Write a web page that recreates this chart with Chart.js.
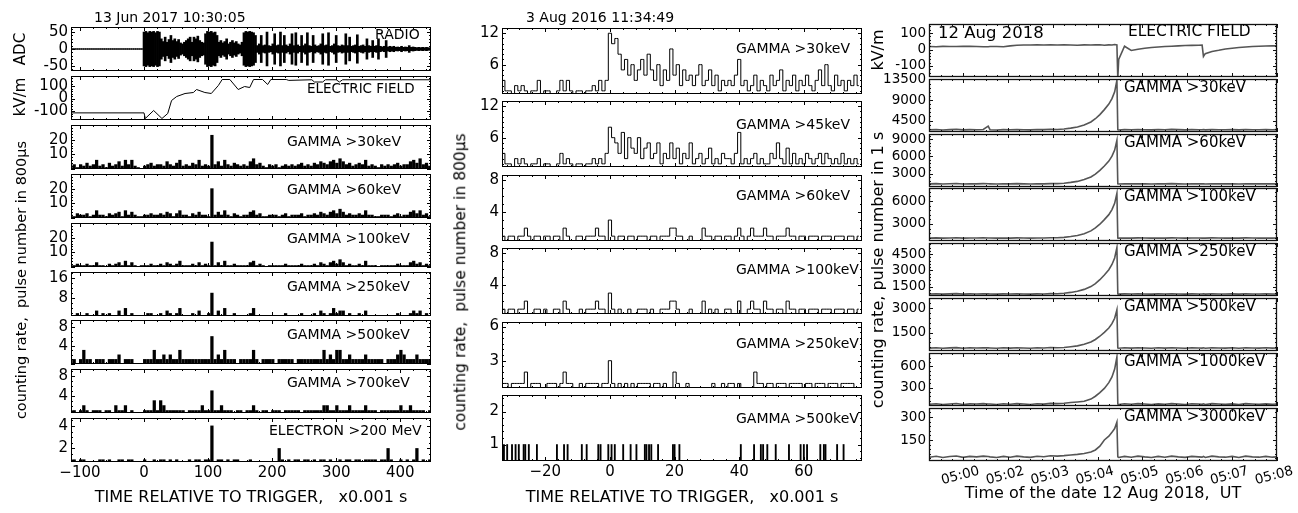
<!DOCTYPE html>
<html lang="en">
<head>
<meta charset="UTF-8">
<title>Gamma flux and electric field</title>
<script src="https://cdn.jsdelivr.net/npm/chart.js"></script>
<style>
    * { margin: 0; padding: 0; box-sizing: border-box; }
    body { background: #fff; font-family: 'DejaVu Sans', sans-serif; color: #000; }
    #wrap { position: relative; width: 1298px; height: 513px; overflow: hidden; }
    #wrap canvas { position: absolute; }
    .txt { position: absolute; white-space: pre; line-height: 1; z-index: 2; }
    .rot { transform: translate(-50%, -50%) rotate(-90deg); }
    .ctr { transform: translate(-50%, -50%); }
    .lft { transform: translateY(-50%); }
</style>
</head>
<body>
<div id="wrap">
    <div class="txt lft" style="left:94px;top:17px;font-size:14px">13 Jun 2017 10:30:05</div>
    <div class="txt lft" style="left:526px;top:17px;font-size:14px">3 Aug 2016 11:34:49</div>

    <div class="txt rot" style="left:20px;top:49px;font-size:15px">ADC</div>
    <div class="txt rot" style="left:20px;top:97px;font-size:15px">kV/m</div>
    <div class="txt rot" style="left:21px;top:280px;font-size:14.5px">counting rate,  pulse number in 800μs</div>
    <div class="txt rot" style="left:461px;top:282px;font-size:15.5px">counting rate,  pulse number in 800μs</div>
    <div class="txt rot" style="left:878px;top:50px;font-size:16px">kV/m</div>
    <div class="txt rot" style="left:878px;top:270px;font-size:16px">counting rate, pulse number in 1 s</div>

    <div class="txt ctr" style="left:251px;top:497px;font-size:16px">TIME RELATIVE TO TRIGGER,   x0.001 s</div>
    <div class="txt ctr" style="left:682px;top:497px;font-size:16px">TIME RELATIVE TO TRIGGER,   x0.001 s</div>
    <div class="txt ctr" style="left:1103px;top:493px;font-size:16px">Time of the date 12 Aug 2018,  UT</div>

    <div class="txt lft" style="left:938px;top:33px;font-size:16.5px">12 Aug 2018</div>
</div>

<script>
// ---------- 13 Jun 2017 (left column), time in ms relative to trigger ----------
const radioT0 = -114, radioDt = 3;
const radioAmp = [
    1,1,1,1,1,1,1,1,1,1, 1,1,1,1,1,1,1,1,1,1, 1,1,1,1,1,1,1,1,1,1, 1,1,1,1,1,1,1,1,
    50,52,48,52,50,52,48,52,50,
    30,22,35,20,28,40,25,30,22,28,18,
    15,20,25,30,35,20,
    35,30,38,25,20,18,
    45,52,50,52,48,50,40,
    20,25,18,22,30,15,20,25,18,22,15,12,20,
    48,52,50,52,50,48,40,
    10,15,40,10,12,50,10,8,15,45,10,12,50,10,40,12,8,15,45,10,48,12,8,40,10,15,48,10,8,40,
    12,8,10,15,45,10,12,48,8,10,15,40,10,8,12,10,45,10,35,8,10,12,42,8,10,12,8,30,10,8,
    25,8,10,30,8,6,8,25,6,8,6,8,5,6,5,8,5,6,5,10,5,6,5,4,5,4,5,4,5,4,3
];
const leftEfT = [-114, 0, 2, 15, 28, 37, 43, 51, 64, 77, 82, 95, 105, 116, 122, 134, 147, 157, 165, 171,
    185, 193, 198, 222, 226, 262, 266, 279, 283, 300, 305, 310, 448];
const leftEfV = [-115, -115, -160, -96, -160, -120, -16, 16, 40, 48, 72, 48, 40, 104, 152, 152, 72, 96, 88, 152,
    152, 112, 152, 152, 145, 150, 132, 132, 150, 150, 132, 150, 150];

const leftT0 = -114, leftDt = 5;
const left30 = [
    2,3,1,3,2,4,2,3,6,2, 3,1,4,2,3,5,2,6,3,6, 2,1,0,2,3,4,2,3,3,2, 5,3,2,4,6,2,3,2,4,3,
    6,2,3,2,23,3,5,2,6,3, 2,4,3,2,3,2,5,7,3,4, 2,1,3,2,3,1,2,3,2,3, 2,3,4,2,3,2,4,3,5,4,
    3,5,6,4,7,5,3,4,2,3, 4,3,6,2,3,2,1,3,2,3, 2,3,4,2,3,3,5,6,4,7, 3,4,2
];
const left60 = [
    2,1,3,2,2,3,1,2,5,2, 2,1,3,2,3,4,1,5,2,4, 2,1,1,2,2,3,2,2,3,2, 4,3,1,3,5,2,2,1,3,2,
    4,2,2,1,20,2,4,2,5,2, 1,3,2,1,2,2,4,5,2,3, 1,1,2,2,2,1,2,3,1,2, 2,2,3,1,2,2,3,2,4,3,
    2,4,5,3,6,4,2,3,2,2, 3,2,5,2,2,1,1,2,2,2, 1,2,3,1,2,2,4,5,3,5, 2,3,1
];
const left100 = [
    1,1,2,1,1,2,1,1,3,1, 1,0,2,1,2,3,1,4,1,3, 1,0,1,1,1,2,1,1,2,1, 3,2,1,2,4,1,1,1,2,1,
    3,1,2,1,17,1,3,1,4,1, 1,2,1,1,1,1,3,4,1,2, 1,0,1,1,1,1,1,2,1,1, 1,1,2,1,1,1,2,1,3,2,
    1,3,4,2,5,3,1,2,1,1, 2,1,4,1,1,1,0,1,1,1, 1,1,2,1,1,1,3,4,2,3, 1,2,1
];
const left250 = [
    1,1,2,1,1,2,1,1,3,1, 2,1,2,1,1,3,1,4,1,2, 1,0,1,1,2,2,1,1,2,1, 3,2,1,2,4,1,1,1,2,1,
    3,1,1,2,10,1,3,1,4,1, 1,2,1,1,1,1,2,4,1,1, 1,0,1,1,1,1,1,2,1,1, 1,1,2,1,1,1,2,1,3,2,
    1,2,4,2,3,3,1,2,1,1, 2,1,3,1,1,1,0,1,1,1, 1,1,2,1,1,1,2,3,2,3, 1,2,1
];
const left500 = [
    1,1,0,1,3,1,1,0,1,1, 1,0,1,1,1,2,0,1,1,1, 0,0,0,1,1,1,3,1,1,2, 1,2,1,1,3,1,1,1,1,1,
    1,1,1,1,6,1,2,1,3,1, 1,1,0,1,1,1,1,3,1,0, 1,1,1,1,0,1,1,1,1,1, 0,1,1,1,1,1,1,1,1,3,
    1,2,1,3,3,1,1,2,1,1, 1,1,2,1,1,1,1,1,0,1, 1,1,2,3,2,1,1,1,2,1, 1,1,1
];
const left700 = [
    1,1,0,1,2,1,0,1,1,1, 0,1,1,0,2,1,1,2,0,1, 0,0,0,1,1,1,3,1,3,2, 1,1,1,1,1,1,0,1,1,1,
    1,2,1,1,5,1,1,2,1,1, 1,0,1,1,0,1,1,2,1,0, 1,1,0,1,1,1,0,1,1,1, 1,1,0,1,1,1,1,1,1,2,
    2,1,1,2,1,1,1,2,1,1, 1,1,2,1,1,1,0,1,1,1, 1,1,1,2,1,1,2,1,1,1, 1,0,1
];
const leftElectron = [
    1,1,0,1,1,0,0,0,0,1, 1,0,1,0,0,1,1,0,1,1, 0,0,0,1,0,0,1,0,1,1, 0,1,0,1,0,0,0,1,0,1,
    1,0,1,1,4,0,1,1,0,1, 0,1,1,0,0,0,1,0,0,0, 0,0,0,0,0,2,1,0,1,0, 1,1,0,1,1,0,1,0,1,1,
    0,1,0,0,1,0,1,1,0,1, 1,0,1,1,1,1,0,1,1,2, 1,0,0,1,0,1,0,1,2,0, 1,0,1
];
const leftXTicks = [-100, 0, 100, 200, 300, 400];

// ---------- 3 Aug 2016 (middle column) ----------
const midT0 = -33, midDt = 1;
const mid30 = [
    3,1,1,0,2,1,2,1,0,1, 1,3,0,1,1,0,0,1,3,1, 3,1,0,1,1,0,1,1,2,1, 3,1,3,12,10,11,8,5,7,4,
    6,3,5,7,4,8,5,3,6,2, 5,3,9,4,6,2,5,3,4,2, 4,6,2,3,5,2,4,1,3,2, 3,2,4,7,2,3,1,2,4,1,
    3,2,1,4,2,3,5,1,3,2, 4,1,3,2,4,2,1,3,5,2, 6,2,1,4,2,3,1,3,2,4, 2
];
const mid45 = [
    3,1,1,0,2,1,2,1,0,1, 1,2,0,1,1,0,0,1,3,1, 2,1,0,1,1,0,1,1,2,1, 2,1,3,8,6,5,3,7,2,6,
    4,3,6,2,4,5,2,3,5,1, 3,2,5,2,4,1,3,2,5,1, 2,3,1,2,4,1,2,1,3,2, 2,1,3,7,1,2,1,2,3,1,
    2,1,1,3,2,5,2,1,4,1, 3,1,2,1,3,2,1,2,3,1, 3,2,1,2,1,3,1,2,1,2, 1
];
const mid60 = [
    1,0,1,1,0,1,1,2,1,0, 1,1,0,1,1,0,1,1,0,2, 1,0,0,1,1,0,1,1,1,2, 1,1,0,3,1,0,1,1,0,1,
    1,0,1,1,1,0,1,1,0,1, 1,1,2,2,1,1,0,0,1,0, 0,0,2,1,1,0,1,1,0,1, 1,0,1,2,1,0,1,2,1,1,
    1,2,1,1,0,1,1,1,2,1, 1,0,1,1,0,1,1,1,0,1, 1,1,0,1,1,1,0,1,1,0, 1
];
const mid100 = [
    1,0,1,1,0,1,1,2,0,0, 1,1,0,1,0,0,1,1,0,2, 1,0,0,0,1,0,1,1,1,2, 1,1,0,3,1,0,1,0,0,1,
    0,0,1,1,1,0,1,0,0,1, 1,1,2,2,1,0,0,0,1,0, 0,0,2,0,1,0,1,0,0,1, 1,0,0,2,0,0,1,2,1,1,
    0,2,1,1,0,1,1,0,2,1, 1,0,1,1,0,1,1,1,0,1, 1,1,0,1,1,1,0,1,1,0, 1
];
const mid250 = [
    1,1,0,1,1,1,1,2,0,1, 1,1,0,0,1,1,1,0,1,2, 1,1,0,0,1,0,1,1,1,1, 0,1,1,3,1,0,1,0,1,0,
    1,0,1,1,1,1,0,1,1,0, 1,0,0,2,1,0,0,1,0,0, 0,0,0,0,0,1,0,0,1,0, 1,1,0,1,0,0,0,0,2,1,
    1,0,1,1,0,1,1,1,0,1, 1,1,1,0,1,1,0,1,1,1, 0,1,1,1,0,1,1,1,1,0, 0
];
// single counts in the >500keV channel
const mid500Events = [-32.8, -31.8, -30.3, -29.2, -28.2, -26.7, -26.2, -25.1, -22.6, -16.4, -14.2, -13.1,
    -8.7, -7.2, -3.6, -2.9, -0.5, 0.5, 1.5, 4.1, 6.4, 8.2, 10.8, 11.3, 12.1, 12.8, 14.9, 19.5, 20, 21.5,
    40.5, 44.6, 46.7, 47.4, 48.7, 51.3, 55.4, 59, 60, 61, 65.1, 66.2, 66.7, 70.3, 72.3];
const midXTicks = [-20, 0, 20, 40, 60];

// ---------- 12 Aug 2018 (right column), x in tick units ----------
const rightT = [-0.75, -0.6, -0.45, -0.3, -0.15, 0, 0.15, 0.3, 0.45, 0.56, 0.6, 0.75, 0.9, 1.05, 1.2, 1.35,
    1.5, 1.65, 1.8, 1.95, 2.1, 2.25, 2.4, 2.55, 2.7, 2.85, 2.95, 3.05, 3.15, 3.25, 3.32, 3.38, 3.43, 3.45,
    3.47, 3.6, 3.75, 3.9, 4.05, 4.2, 4.35, 4.5, 4.65, 4.8, 4.95, 5.1, 5.25, 5.33, 5.36, 5.4, 5.55, 5.7,
    5.85, 6.0, 6.15, 6.3, 6.45, 6.6, 6.75, 6.9, 7.0];
const rightEf = [18,17,19,18,18,20,19,18,17, 17,18, 18,17,22,26,27,27,28,27,28,
    27,28,27,26,28,27,28,29,26,28,27,30,28, -175,-60,20,-6,2,8,12,15,18,20,22,24,25,26,27,
    -42,-25,-12,-5,3,8,12,15,18,20,21,22,22];
const right30 = [2480,2550,2450,2520,2600,2470,2530,2490,2560, 3300,2500,
    2450,2530,2480,2560,2500,2470,2540,2510,2600,
    2550,2650,2850,3100,3550,4200,4900,5800,6900,8100,9300,10800,13300,
    2500,2450,2520,2480,2550,2500,2460,2530,2490,2570,2510,2470,2540,2500,2480,2530,2460,2550,
    2500,2480,2520,2470,2540,2500,2490,2530,2480,2510];
const right60 = [1240,1280,1220,1260,1300,1230,1270,1250,1280, 1260,1250,
    1230,1270,1240,1280,1250,1230,1270,1250,1290,
    1290,1360,1500,1670,1990,2450,2940,3580,4350,5200,6050,7110,8800,
    1250,1230,1260,1240,1270,1250,1230,1260,1240,1280,1250,1230,1270,1250,1240,1260,1230,1270,
    1250,1240,1260,1230,1270,1250,1240,1260,1240,1250];
const right100 = [1160,1190,1150,1180,1200,1150,1180,1170,1190, 1180,1170,
    1150,1180,1160,1190,1170,1150,1180,1170,1200,
    1200,1250,1360,1500,1740,2100,2480,2970,3570,4220,4880,5700,7000,
    1170,1150,1180,1160,1190,1170,1150,1180,1160,1190,1170,1150,1180,1170,1160,1180,1150,1190,
    1170,1160,1180,1150,1190,1170,1160,1180,1160,1170];
const right250 = [830,860,820,850,870,820,850,840,860, 850,840,
    820,850,830,860,840,820,850,840,870,
    860,900,980,1080,1260,1520,1790,2150,2590,3070,3550,4150,5100,
    840,820,850,830,860,840,820,850,830,860,840,820,850,840,830,850,820,860,
    840,830,850,820,860,840,830,850,830,840];
const right500 = [550,575,540,565,580,545,570,560,575, 565,560,
    545,570,550,575,560,545,570,560,585,
    570,590,640,690,790,930,1080,1280,1520,1780,2050,2380,2900,
    560,545,570,550,575,560,545,570,550,575,560,545,570,560,550,570,545,575,
    560,550,570,545,575,560,550,570,550,560];
const right1000 = [68,75,64,72,78,65,73,70,76, 72,70,
    64,74,67,76,70,65,74,70,80,
    76,82,92,100,110,140,180,230,290,370,450,560,730,
    70,65,74,67,76,70,64,73,67,76,70,65,74,70,66,73,64,76,
    70,66,73,64,76,70,66,73,67,70];
const right3000 = [38,44,36,42,46,37,43,40,45, 42,40,
    36,43,38,45,40,37,44,41,47,
    45,48,52,56,62,72,85,110,150,175,200,225,267,
    40,36,43,38,45,40,36,43,38,45,40,37,43,40,38,43,36,45,
    40,38,43,36,45,40,38,43,38,40];
const rightXTicks = [0, 1, 2, 3, 4, 5, 6, 7];
const rightXLabels = ['05:00', '05:02', '05:03', '05:04', '05:05', '05:06', '05:07', '05:08'];

// ---------- helpers ----------
Chart.defaults.font.family = "'DejaVu Sans', sans-serif";
const wrap = document.getElementById('wrap');
const regular = (vals, t0, dt) => vals.map((v, i) => ({ x: t0 + dt * i, y: v }));
const pairs = (xs, ys) => xs.map((x, i) => ({ x: x, y: ys[i] }));

// box around the axes with matplotlib-style inward ticks on all four sides
const framePlugin = {
    id: 'frame',
    afterDatasetsDraw(chart, args, o) {
        const { ctx, chartArea: a, scales: { x, y } } = chart;
        ctx.save();
        ctx.strokeStyle = o.color;
        ctx.lineWidth = 1;
        ctx.beginPath();
        const isMajor = (v, step) => Math.abs(v / step - Math.round(v / step)) < 1e-6;
        for (let k = Math.ceil(x.min / o.xMinor); k * o.xMinor <= x.max + 1e-9; k++) {
            const v = k * o.xMinor;
            const px = Math.round(x.getPixelForValue(v)) + 0.5;
            const len = isMajor(v, o.xMajor) ? 4 : 2;
            ctx.moveTo(px, a.bottom); ctx.lineTo(px, a.bottom - len);
            ctx.moveTo(px, a.top); ctx.lineTo(px, a.top + len);
        }
        for (let k = Math.ceil(y.min / o.yMinor); k * o.yMinor <= y.max + 1e-9; k++) {
            const v = k * o.yMinor;
            const py = Math.round(y.getPixelForValue(v)) + 0.5;
            const len = isMajor(v, o.yMajor) ? 4 : 2;
            ctx.moveTo(a.left, py); ctx.lineTo(a.left + len, py);
            ctx.moveTo(a.right, py); ctx.lineTo(a.right - len, py);
        }
        ctx.stroke();
        ctx.lineWidth = o.lw;
        ctx.strokeRect(Math.round(a.left) + 0.5, Math.round(a.top) + 0.5,
            Math.round(a.width) - 1, Math.round(a.height) - 1);
        ctx.restore();
    }
};

const minusX = v => (v < 0 ? '\u2212' + (-v) : String(v));

const columns = [
    {
        left: 71, width: 360, top: 27, step: 48.9, height: 44, yW: 62, xH: 28,
        xMin: -114, xMax: 448, xTicks: leftXTicks, xMajor: 100, xMinor: 20, fmtX: minusX,
        rot: 0, lOff: 0, tickFont: 15, nameFont: 14, color: '#000', frame: '#000', lw: 1,
        panels: [
            { name: 'RADIO', lx: 375, ly: 7, y: [-65, 65], yt: [-50, 0, 50], ym: 10,
              bars: radioAmp.map((a, i) => ({ x: radioT0 + radioDt * i, y: [-a, a] })), bw: 2 },
            { name: 'ELECTRIC FIELD', lx: 307, ly: 13, fs: 13.5, y: [-172, 180], yt: [-100, 0, 100], ym: 20,
              line: pairs(leftEfT, leftEfV) },
            { name: 'GAMMA >30keV', lx: 287, ly: 16, y: [0, 30], yt: [10, 20], ym: 2, bars: regular(left30, leftT0, leftDt), bw: 2.6 },
            { name: 'GAMMA >60keV', lx: 287, ly: 15, y: [0, 30], yt: [10, 20], ym: 2, bars: regular(left60, leftT0, leftDt), bw: 2.6 },
            { name: 'GAMMA >100keV', lx: 287, ly: 15, y: [0, 30], yt: [10, 20], ym: 2, bars: regular(left100, leftT0, leftDt), bw: 2.6 },
            { name: 'GAMMA >250keV', lx: 287, ly: 14, y: [1, 18.3], yt: [8, 16], ym: 2, bars: regular(left250, leftT0, leftDt), bw: 2.6 },
            { name: 'GAMMA >500keV', lx: 287, ly: 14, y: [0, 9.6], yt: [4, 8], ym: 1, bars: regular(left500, leftT0, leftDt), bw: 2.6 },
            { name: 'GAMMA >700keV', lx: 287, ly: 13, y: [0.5, 9.4], yt: [4, 8], ym: 1, bars: regular(left700, leftT0, leftDt), bw: 2.6 },
            { name: 'ELECTRON >200 MeV', lx: 269, ly: 12, y: [0.8, 4.7], yt: [2, 4], ym: 0.5, bars: regular(leftElectron, leftT0, leftDt), bw: 2.6 }
        ]
    },
    {
        left: 502, width: 360, top: 28, step: 73.4, height: 66, yW: 62, xH: 28,
        xMin: -33.4, xMax: 78, xTicks: midXTicks, xMajor: 20, xMinor: 4, fmtX: minusX,
        rot: 0, lOff: 0, tickFont: 15, nameFont: 14, color: '#000', frame: '#000', lw: 1,
        panels: [
            { name: 'GAMMA >30keV', lx: 736, ly: 20, y: [0.4, 13], yt: [6, 12], ym: 1, step: regular(mid30, midT0, midDt) },
            { name: 'GAMMA >45keV', lx: 736, ly: 23, y: [0.4, 13], yt: [6, 12], ym: 1, step: regular(mid45, midT0, midDt) },
            { name: 'GAMMA >60keV', lx: 736, ly: 20, y: [0.4, 8.6], yt: [4, 8], ym: 1, step: regular(mid60, midT0, midDt) },
            { name: 'GAMMA >100keV', lx: 736, ly: 21, y: [0.4, 8.6], yt: [4, 8], ym: 1, step: regular(mid100, midT0, midDt) },
            { name: 'GAMMA >250keV', lx: 736, ly: 21, y: [0.6, 6.4], yt: [3, 6], ym: 0.5, step: regular(mid250, midT0, midDt) },
            { name: 'GAMMA >500keV', lx: 736, ly: 23, y: [0.5, 2.5], yt: [1, 2], ym: 0.2,
              bars: mid500Events.map(t => ({ x: t, y: 1 })), bw: 1.2 }
        ]
    },
    {
        left: 929, width: 348, top: 24, step: 54.8, height: 53, yW: 72, xH: 30,
        xMin: -0.76, xMax: 7, xTicks: rightXTicks, xMajor: 1, xMinor: 0.25, fmtX: v => rightXLabels[v],
        rot: 15, lOff: 16, tickFont: 13.5, nameFont: 15, color: '#555', frame: '#111', lw: 1.3, lineW: 1.6,
        panels: [
            { name: 'ELECTRIC FIELD', lx: 1128, ly: 8, fs: 15.4, y: [-167, 155], yt: [-100, 0, 100], ym: 20, line: pairs(rightT, rightEf) },
            { name: 'GAMMA >30keV', lx: 1124, ly: 8, y: [2000, 13600], yt: [4500, 9000, 13500], ym: 900, line: pairs(rightT, right30) },
            { name: 'GAMMA >60keV', lx: 1124, ly: 8, y: [700, 9900], yt: [3000, 6000, 9000], ym: 600, line: pairs(rightT, right60) },
            { name: 'GAMMA >100keV', lx: 1124, ly: 8, y: [780, 7700], yt: [3000, 6000], ym: 600, line: pairs(rightT, right100) },
            { name: 'GAMMA >250keV', lx: 1124, ly: 8, y: [650, 5530], yt: [1500, 3000, 4500], ym: 300, line: pairs(rightT, right250) },
            { name: 'GAMMA >500keV', lx: 1124, ly: 8, y: [375, 3625], yt: [1500, 3000], ym: 300, line: pairs(rightT, right500) },
            { name: 'GAMMA >1000keV', lx: 1124, ly: 8, y: [43, 786], yt: [300, 600], ym: 60, line: pairs(rightT, right1000) },
            { name: 'GAMMA >3000keV', lx: 1124, ly: 8, y: [13, 359], yt: [150, 300], ym: 30, line: pairs(rightT, right3000) }
        ]
    }
];

function addPanel(col, p, i, last) {
    const top = Math.round(col.top + col.step * i);
    const padT = 10, padB = last ? 0 : 10, padR = 40;
    const xH = last ? col.xH : 0;
    const W = col.yW + col.width + padR;
    const H = padT + col.height + padB + xH;
    const cv = document.createElement('canvas');
    cv.width = W; cv.height = H;
    cv.style.left = (col.left - col.yW) + 'px';
    cv.style.top = (top - padT) + 'px';
    cv.style.width = W + 'px';
    cv.style.height = H + 'px';
    wrap.appendChild(cv);

    const name = document.createElement('div');
    name.className = 'txt lft';
    name.textContent = p.name;
    name.style.left = p.lx + 'px';
    name.style.top = (top + p.ly) + 'px';
    name.style.fontSize = (p.fs || col.nameFont) + 'px';
    wrap.appendChild(name);

    let ds;
    if (p.bars) {
        ds = { type: 'bar', data: p.bars, backgroundColor: col.color, barThickness: p.bw, borderWidth: 0 };
    } else {
        ds = { data: p.step || p.line, borderColor: col.color, borderWidth: col.lineW || 1,
               pointRadius: 0, tension: 0, stepped: p.step ? 'middle' : false };
    }

    new Chart(cv, {
        type: 'line',
        data: { datasets: [ds] },
        options: {
            responsive: false,
            animation: false,
            devicePixelRatio: 1,
            layout: { padding: { left: 0, top: padT, right: padR, bottom: padB } },
            plugins: {
                legend: { display: false },
                tooltip: { enabled: false },
                frame: { xMajor: col.xMajor, xMinor: col.xMinor, yMajor: p.yt[1] - p.yt[0], yMinor: p.ym,
                         color: col.frame, lw: col.lw }
            },
            scales: {
                x: {
                    type: 'linear', min: col.xMin, max: col.xMax, offset: false, display: last,
                    grid: { display: false, drawTicks: false, offset: false },
                    border: { display: false },
                    afterBuildTicks: s => { s.ticks = col.xTicks.map(v => ({ value: v })); },
                    afterFit: s => { s.height = xH; s.paddingLeft = 0; s.paddingRight = 0; },
                    ticks: { autoSkip: false, padding: 2, maxRotation: col.rot, minRotation: col.rot,
                             labelOffset: col.lOff, color: '#000', font: { size: col.tickFont },
                             callback: v => col.fmtX(v) }
                },
                y: {
                    type: 'linear', min: p.y[0], max: p.y[1],
                    grid: { display: false, drawTicks: false },
                    border: { display: false },
                    afterBuildTicks: s => { s.ticks = p.yt.map(v => ({ value: v })); },
                    afterFit: s => { s.width = col.yW; s.paddingTop = 0; s.paddingBottom = 0; },
                    ticks: { autoSkip: false, padding: 3, color: '#000', font: { size: col.tickFont },
                             callback: v => String(v) }
                }
            }
        },
        plugins: [framePlugin]
    });
}

columns.forEach(col => {
    col.panels.forEach((p, i) => addPanel(col, p, i, i === col.panels.length - 1));
});
</script>
</body>
</html>
